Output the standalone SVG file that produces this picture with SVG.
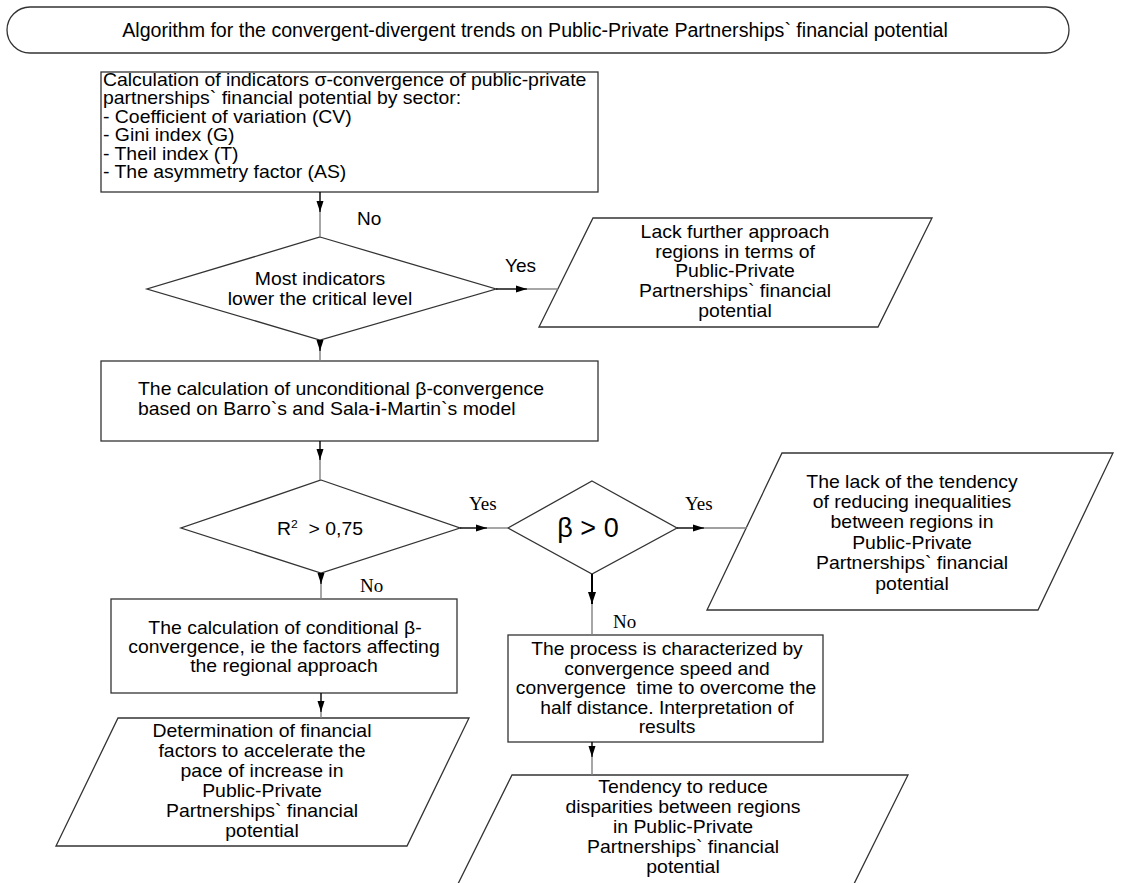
<svg xmlns="http://www.w3.org/2000/svg" width="1122" height="883" viewBox="0 0 1122 883">
<defs>
<style>
.shape{fill:#fff;stroke:#333;stroke-width:1.3}
.t{font-family:"Liberation Sans",Arial,sans-serif;font-size:17.5px;fill:#000;white-space:pre}
.c{text-anchor:middle}
.lb{font-family:"Liberation Sans",Arial,sans-serif;font-size:19px;fill:#000}
.s{font-family:"Liberation Serif","Times New Roman",serif;font-size:19px;fill:#000}
.ln{stroke:#000;stroke-width:1.4;fill:none}
.lg{stroke:#808080;stroke-width:1.4;fill:none}
.ah{fill:#000;stroke:none}
</style>
</defs>
<rect width="1122" height="883" fill="#fff"/>

<g id="title">
<rect class="shape" x="7" y="7" width="1062" height="46" rx="23" ry="23"/>
<text class="t c" x="535" y="37" style="font-size:19.6px">Algorithm for the convergent-divergent trends on Public-Private Partnerships` financial potential</text>
</g>

<g id="sigma-box">
<rect class="shape" x="101" y="72" width="497" height="120"/>
<text class="t" transform="translate(103 86) scale(1.11 1)">Calculation of indicators σ-convergence of public-private</text>
<text class="t" transform="translate(103 104) scale(1.11 1)">partnerships` financial potential by sector:</text>
<text class="t" transform="translate(103 123) scale(1.11 1)">- Coefficient of variation (CV)</text>
<text class="t" transform="translate(103 141) scale(1.11 1)">- Gini index (G)</text>
<text class="t" transform="translate(103 160) scale(1.11 1)">- Theil index (T)</text>
<text class="t" transform="translate(103 178) scale(1.11 1)">- The asymmetry factor (AS)</text>
</g>

<g id="decision-indicators">
<polygon class="shape" points="320,237 496,289 320,340 147,289"/>
<text class="t c" transform="translate(320 285) scale(1.11 1)">Most indicators</text>
<text class="t c" transform="translate(320 305) scale(1.11 1)">lower the critical level</text>
</g>

<g id="lack-approach">
<polygon class="shape" points="593,218 932,218 878,327 539,327"/>
<text class="t c" transform="translate(735 238) scale(1.11 1)">Lack further approach</text>
<text class="t c" transform="translate(735 258) scale(1.11 1)">regions in terms of</text>
<text class="t c" transform="translate(735 277) scale(1.11 1)">Public-Private</text>
<text class="t c" transform="translate(735 297) scale(1.11 1)">Partnerships` financial</text>
<text class="t c" transform="translate(735 317) scale(1.11 1)">potential</text>
</g>

<g id="unconditional-box">
<rect class="shape" x="101" y="361" width="497" height="80"/>
<text class="t" transform="translate(138 395) scale(1.11 1)">The calculation of unconditional β-convergence</text>
<text class="t" transform="translate(138 415) scale(1.11 1)">based on Barro`s and Sala-<tspan font-weight="bold">i</tspan>-Martin`s model</text>
</g>

<g id="decision-r2">
<polygon class="shape" points="321,480 460,528 321,573 181,528"/>
<text class="t c" transform="translate(320 535) scale(1.11 1)">R<tspan font-size="11" dy="-7">2</tspan><tspan dy="7">  &gt; 0,75</tspan></text>
</g>

<g id="decision-beta">
<polygon class="shape" points="592,481 677,528 592,574 508,528"/>
<text class="t c" x="588" y="537" style="font-size:27px">β &gt; 0</text>
</g>

<g id="lack-tendency">
<polygon class="shape" points="782,453 1113,453 1038,610 707,610"/>
<text class="t c" transform="translate(912 488) scale(1.11 1)">The lack of the tendency</text>
<text class="t c" transform="translate(912 508) scale(1.11 1)">of reducing inequalities</text>
<text class="t c" transform="translate(912 528) scale(1.11 1)">between regions in</text>
<text class="t c" transform="translate(912 549) scale(1.11 1)">Public-Private</text>
<text class="t c" transform="translate(912 569) scale(1.11 1)">Partnerships` financial</text>
<text class="t c" transform="translate(912 590) scale(1.11 1)">potential</text>
</g>

<g id="conditional-box">
<rect class="shape" x="111" y="599" width="346" height="94"/>
<text class="t c" transform="translate(285 634) scale(1.11 1)">The calculation of conditional β-</text>
<text class="t c" transform="translate(284 653) scale(1.11 1)">convergence, ie the factors affecting</text>
<text class="t c" transform="translate(284 672) scale(1.11 1)">the regional approach</text>
</g>

<g id="process-box">
<rect class="shape" x="508" y="635" width="315" height="107"/>
<text class="t c" transform="translate(667 655) scale(1.1 1)">The process is characterized by</text>
<text class="t c" transform="translate(667 675) scale(1.1 1)">convergence speed and</text>
<text class="t c" transform="translate(666 694) scale(1.1 1)">convergence  time to overcome the</text>
<text class="t c" transform="translate(667 714) scale(1.1 1)">half distance. Interpretation of</text>
<text class="t c" transform="translate(667 733) scale(1.1 1)">results</text>
</g>

<g id="determination">
<polygon class="shape" points="118,718 469,718 407,846 56,846"/>
<text class="t c" transform="translate(262 737) scale(1.11 1)">Determination of financial</text>
<text class="t c" transform="translate(262 757) scale(1.11 1)">factors to accelerate the</text>
<text class="t c" transform="translate(262 777) scale(1.11 1)">pace of increase in</text>
<text class="t c" transform="translate(262 797) scale(1.11 1)">Public-Private</text>
<text class="t c" transform="translate(262 817) scale(1.11 1)">Partnerships` financial</text>
<text class="t c" transform="translate(262 837) scale(1.11 1)">potential</text>
</g>

<g id="tendency-reduce">
<polygon class="shape" points="512,775 908,775 846,900 450,900"/>
<text class="t c" transform="translate(683 793) scale(1.11 1)">Tendency to reduce</text>
<text class="t c" transform="translate(683 813) scale(1.11 1)">disparities between regions</text>
<text class="t c" transform="translate(683 833) scale(1.11 1)">in Public-Private</text>
<text class="t c" transform="translate(683 853) scale(1.11 1)">Partnerships` financial</text>
<text class="t c" transform="translate(683 873) scale(1.11 1)">potential</text>
</g>

<g id="connectors">
<path class="ln" d="M320,192 V212"/><path class="lg" d="M320,212 V237"/>
<polygon class="ah" points="316.5,201 323.5,201 320,212"/>
<text class="lb" x="357" y="225">No</text>
<path class="ln" d="M496,289 H527"/><path class="lg" d="M527,289 H558"/>
<polygon class="ah" points="516,285.5 516,292.5 527,289"/>
<text class="lb" x="505" y="272">Yes</text>
<path class="ln" d="M320,340 V351"/><path class="lg" d="M320,351 V361"/>
<polygon class="ah" points="316.5,340 323.5,340 320,351"/>
<path class="ln" d="M320,441 V460"/><path class="lg" d="M320,460 V480"/>
<polygon class="ah" points="316.5,449 323.5,449 320,460"/>
<path class="ln" d="M460,528 H487"/><path class="lg" d="M487,528 H508"/>
<polygon class="ah" points="476,524.5 476,531.5 487,528"/>
<text class="s" x="469" y="510">Yes</text>
<path class="ln" d="M321,573 V584"/><path class="lg" d="M321,584 V599"/>
<polygon class="ah" points="317.5,573 324.5,573 321,584"/>
<text class="s" x="360" y="592">No</text>
<path class="ln" d="M677,528 H704"/><path class="lg" d="M704,528 H747"/>
<polygon class="ah" points="693,524.5 693,531.5 704,528"/>
<text class="s" x="685" y="510">Yes</text>
<path class="ln" d="M592,574 V604" style="stroke-width:2"/><path class="lg" d="M592,604 V635"/>
<polygon class="ah" points="588,592 596,592 592,604"/>
<text class="s" x="613" y="628">No</text>
<path class="ln" d="M321,693 V712"/><path class="lg" d="M321,712 V718"/>
<polygon class="ah" points="317.5,701 324.5,701 321,712"/>
<path class="ln" d="M592,742 V757"/><path class="lg" d="M592,757 V775"/>
<polygon class="ah" points="588.5,746 595.5,746 592,757"/>
</g>
</svg>
